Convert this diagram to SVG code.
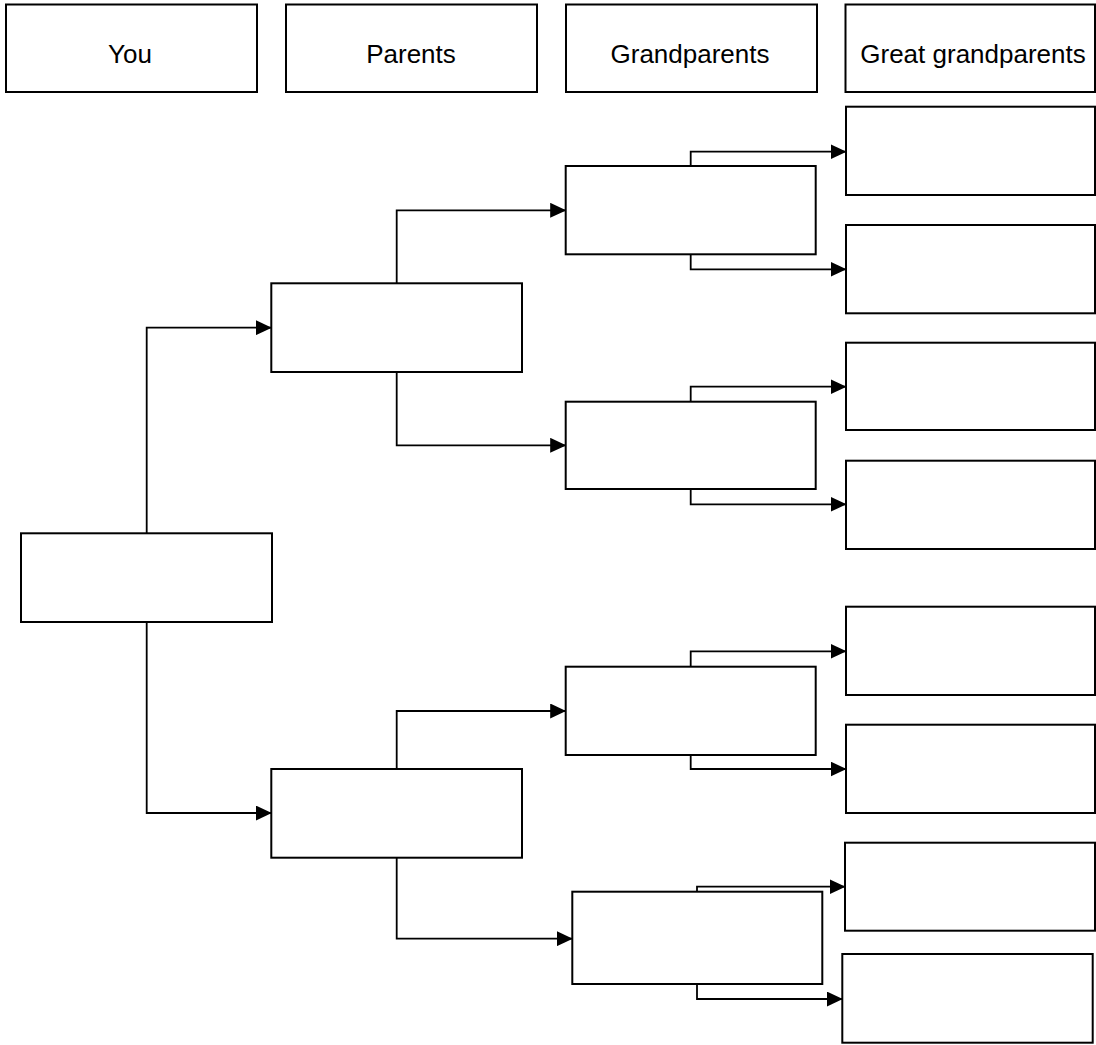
<svg xmlns="http://www.w3.org/2000/svg" width="1096" height="1045" viewBox="0 0 1096 1045">
<style>
.box{fill:#ffffff;stroke:#000000;stroke-width:2}
.lbl{font-family:"Liberation Sans",Arial,sans-serif;font-size:26px;fill:#000000;text-anchor:middle}
.con{fill:none;stroke:#000000;stroke-width:1.8;marker-end:url(#arr)}
</style>
<defs>
<marker id="arr" markerUnits="userSpaceOnUse" markerWidth="16" markerHeight="15" viewBox="0 0 16 15" refX="15.5" refY="7.5" orient="auto">
<path d="M0,0 L16,7.5 L0,15 Z" fill="#000000"/>
</marker>
</defs>
<rect width="1096" height="1045" fill="#ffffff"/>
<g id="header-you"><rect class="box" x="6" y="4.5" width="251" height="87.5"/><text class="lbl" x="130" y="63">You</text></g>
<g id="header-parents"><rect class="box" x="286" y="4.5" width="251" height="87.5"/><text class="lbl" x="411" y="63">Parents</text></g>
<g id="header-grandparents"><rect class="box" x="566" y="4.5" width="251" height="87.5"/><text class="lbl" x="690" y="63">Grandparents</text></g>
<g id="header-great"><rect class="box" x="845.5" y="4.5" width="249.5" height="87.5"/><text class="lbl" x="973" y="63">Great grandparents</text></g>
<g id="connectors">
<path class="con" d="M146.7,533.3 V327.7 H271.3"/>
<path class="con" d="M146.7,622 V813 H271.3"/>
<path class="con" d="M396.7,283.3 V210.3 H565.7"/>
<path class="con" d="M396.7,372 V445.3 H565.7"/>
<path class="con" d="M396.7,769 V711 H565.7"/>
<path class="con" d="M396.7,857.7 V938.7 H572.3"/>
<path class="con" d="M690.7,166 V151.7 H846"/>
<path class="con" d="M690.7,254.3 V269.3 H846"/>
<path class="con" d="M690.7,401.7 V386.7 H846"/>
<path class="con" d="M690.7,489 V504.3 H846"/>
<path class="con" d="M690.7,666.7 V651.3 H846"/>
<path class="con" d="M690.7,755 V769 H846"/>
<path class="con" d="M697,891.7 V886.7 H845"/>
<path class="con" d="M697,984 V999 H842.3"/>
</g>
<g id="you"><rect class="box" x="21" y="533.3" width="251" height="88.7"/></g>
<g id="parent1"><rect class="box" x="271.3" y="283.3" width="250.7" height="88.7"/></g>
<g id="parent2"><rect class="box" x="271.3" y="769" width="250.7" height="88.7"/></g>
<g id="gp1"><rect class="box" x="565.7" y="166" width="250" height="88.3"/></g>
<g id="gp2"><rect class="box" x="565.7" y="401.7" width="250" height="87.3"/></g>
<g id="gp3"><rect class="box" x="565.7" y="666.7" width="250" height="88.3"/></g>
<g id="gp4"><rect class="box" x="572.3" y="891.7" width="250" height="92.3"/></g>
<g id="gg1"><rect class="box" x="846" y="106.7" width="249" height="88.3"/></g>
<g id="gg2"><rect class="box" x="846" y="225" width="249" height="88.3"/></g>
<g id="gg3"><rect class="box" x="846" y="342.7" width="249" height="87.3"/></g>
<g id="gg4"><rect class="box" x="846" y="460.7" width="249" height="88.3"/></g>
<g id="gg5"><rect class="box" x="846" y="606.7" width="249" height="88.3"/></g>
<g id="gg6"><rect class="box" x="846" y="724.7" width="249" height="88.3"/></g>
<g id="gg7"><rect class="box" x="845" y="842.7" width="250" height="88"/></g>
<g id="gg8"><rect class="box" x="842.3" y="954" width="250.4" height="88.7"/></g>
</svg>
